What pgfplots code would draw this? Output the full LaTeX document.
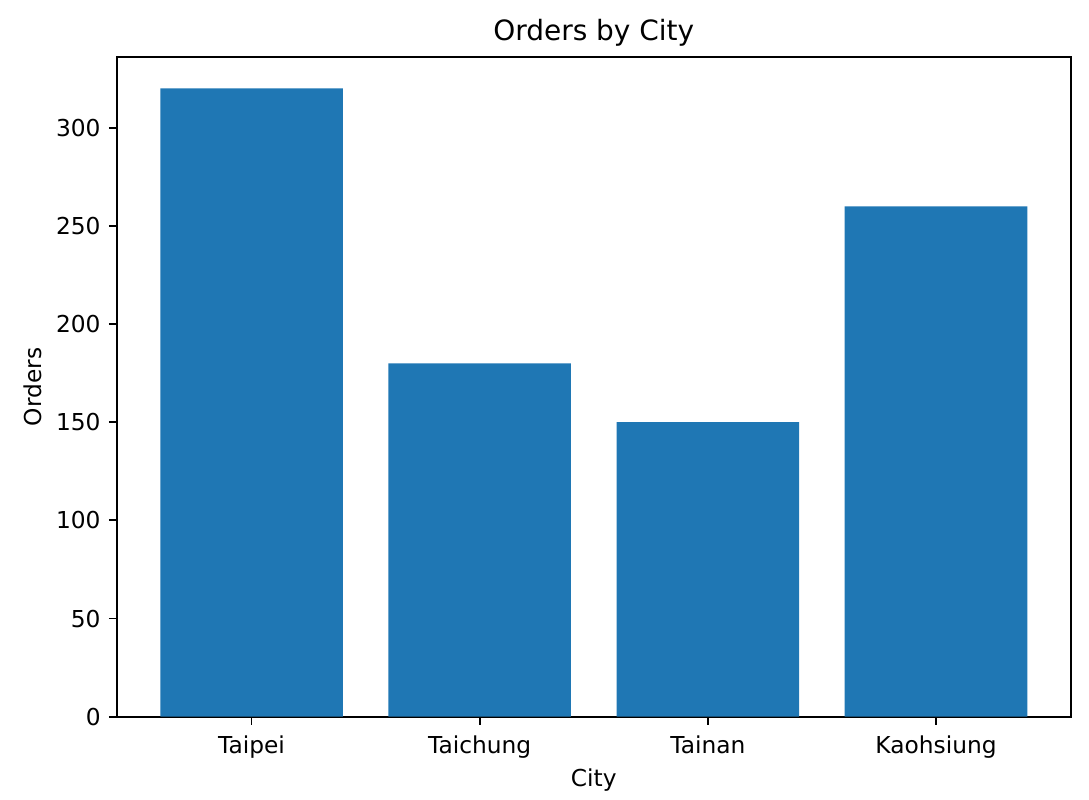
\documentclass[border=0pt]{standalone}
\usepackage{pgfplots}
\pgfplotsset{compat=1.18}
\usepackage{fontspec}
\setmainfont{DejaVu Sans}
\definecolor{mplblue}{HTML}{1F77B4}
\begin{document}
\begin{tikzpicture}
\begin{axis}[
  scale only axis,
  width=409.3pt, height=283.1pt,
  xmin=-0.59, xmax=3.59,
  ymin=0, ymax=336,
  xtick={0,1,2,3},
  xticklabels={Taipei,Taichung,Tainan,Kaohsiung},
  ytick={0,50,100,150,200,250,300},
  /pgf/number format/assume math mode=true,
  tick label style={font=\fontsize{10}{12}\selectfont},
  x tick label style={yshift=-1.2pt},
  every axis title/.style={font=\fontsize{12}{14}\selectfont, at={(axis description cs:0.5,1)}, anchor=center, yshift=10.3pt},
  title={Orders by City},
  xlabel={City}, ylabel={Orders},
  every axis x label/.style={font=\fontsize{10}{12}\selectfont, at={(axis description cs:0.5,0)}, anchor=center, yshift=-27.3pt},
  every axis y label/.style={font=\fontsize{10}{12}\selectfont, at={(axis description cs:0,0.5)}, anchor=center, rotate=90, yshift=36pt},
  tick align=outside, tick pos=left,
  major tick length=3.5pt,
  every tick/.style={black, line width=0.8pt},
  axis line style={line width=0.8pt},
]
\addplot[ybar, bar width=0.8, fill=mplblue, draw=none, bar shift=0pt] coordinates {
  (0,320) (1,180) (2,150) (3,260)
};
\end{axis}
\path (-50.2pt,-35.6pt) rectangle (417.2pt,307.6pt);
\end{tikzpicture}
\end{document}
